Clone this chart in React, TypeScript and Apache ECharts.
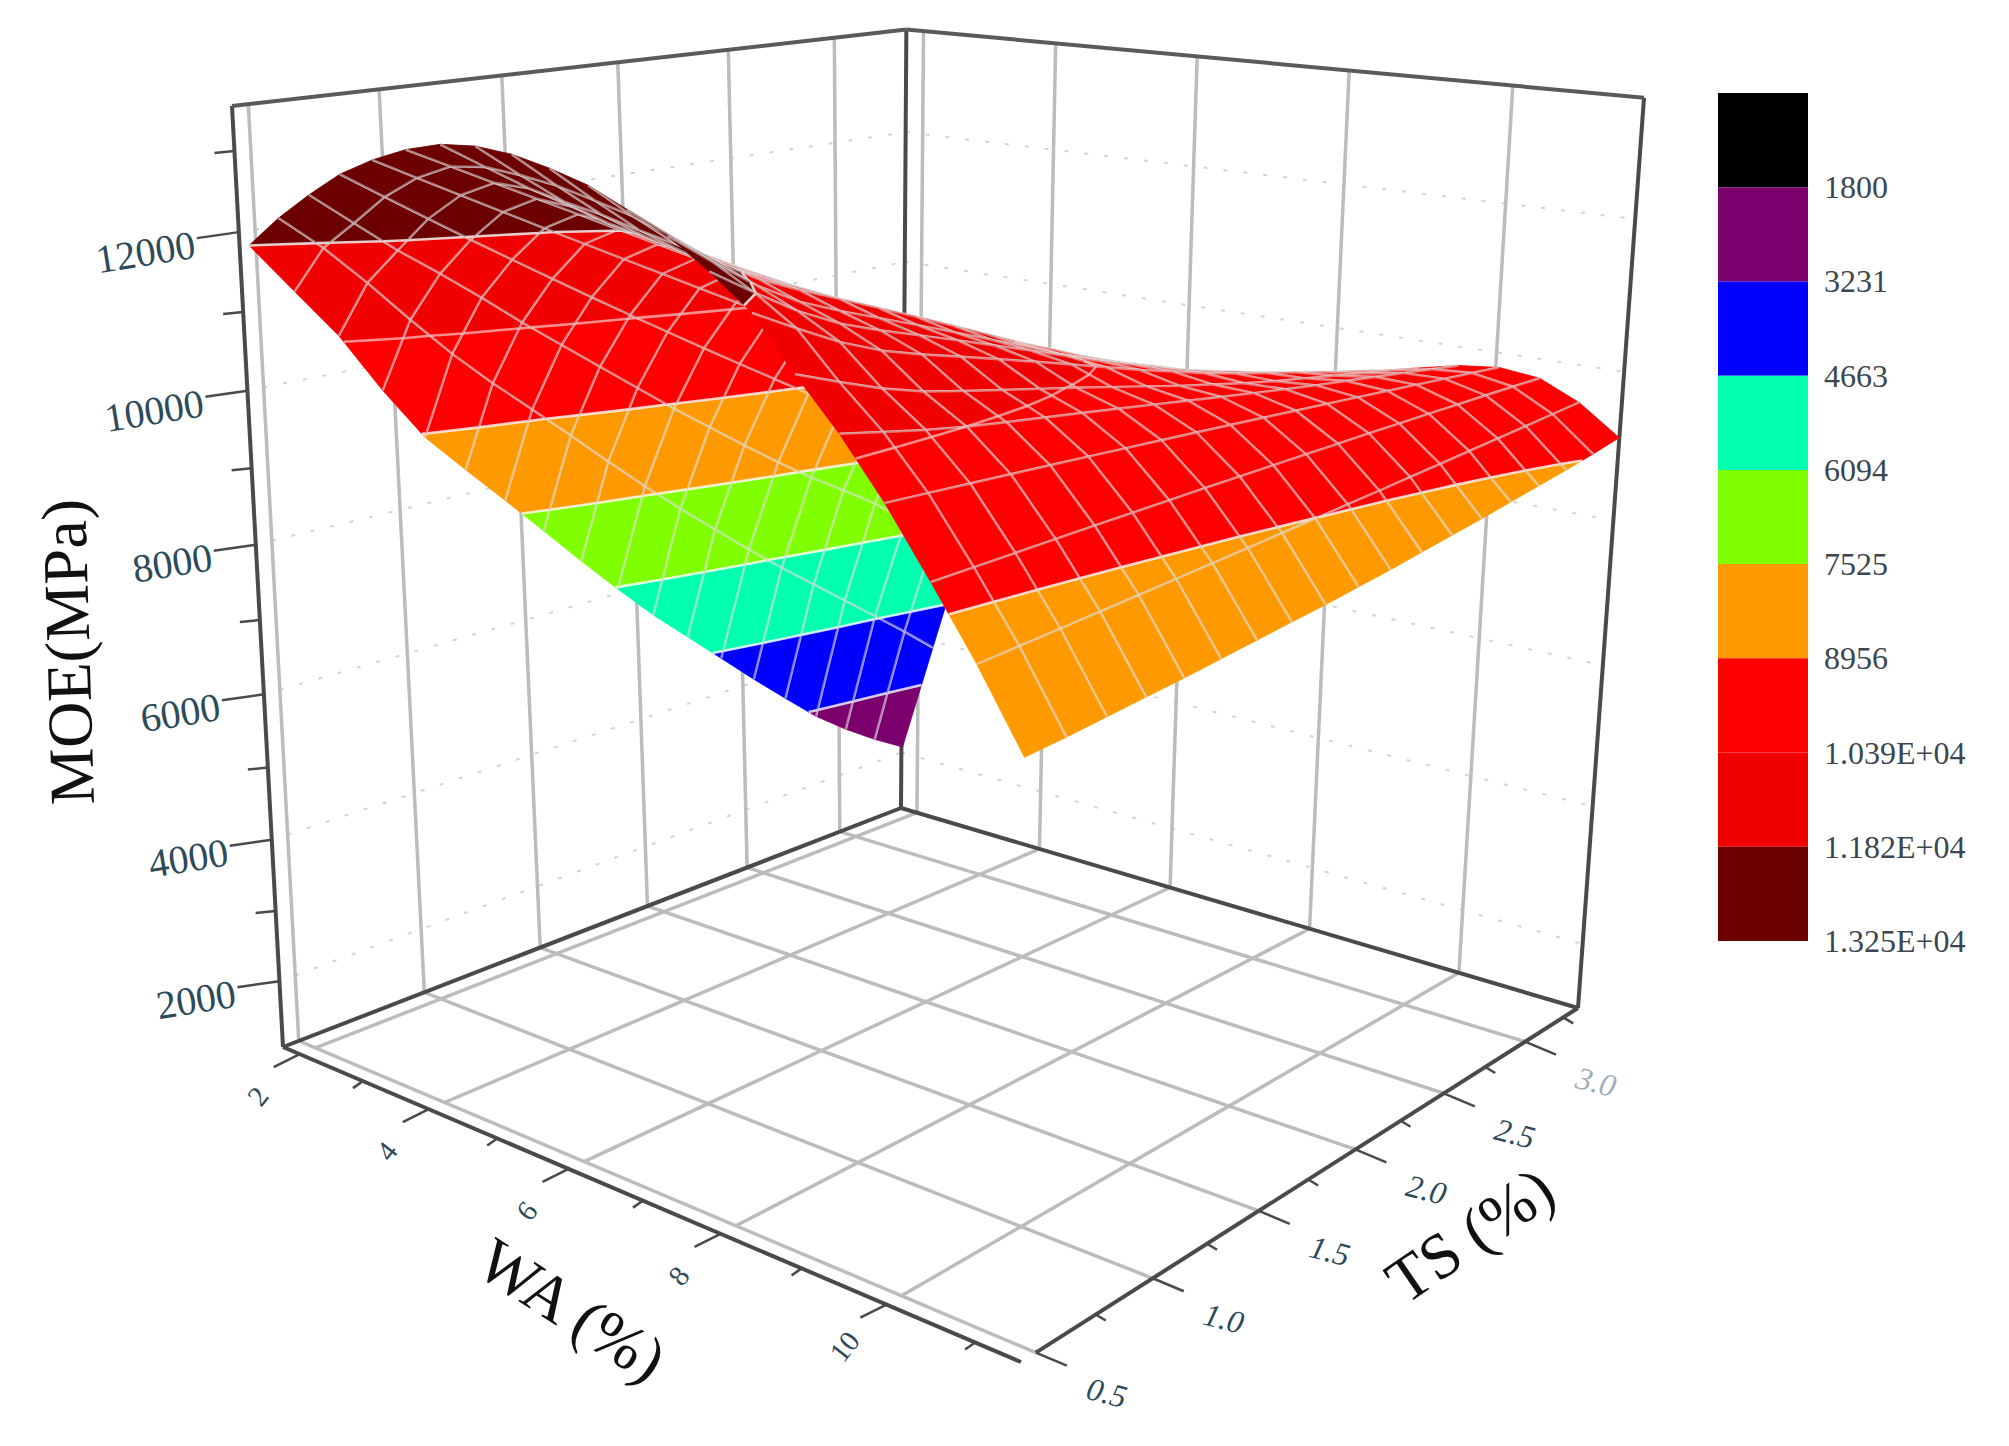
import { useEffect, useRef } from 'react';
import * as echarts from 'echarts';

// mesh nodes of the surface
const waNodes = [1.75, 2.24, 2.73, 3.21, 3.7, 4.19, 4.68, 5.16, 5.65, 6.14, 6.63, 7.11, 7.6, 8.09, 8.58, 9.06, 9.55, 10.04, 10.53, 11.01, 11.5];
const tsNodes = [0.47, 0.63, 0.79, 0.95, 1.11, 1.27, 1.43, 1.59, 1.75, 1.91, 2.07, 2.23, 2.39, 2.55, 2.71, 2.87, 3.03, 3.19, 3.35];

// MOE, one row per waNodes entry, one column per tsNodes entry
const moeRows = [
  [11820, 11150, 10480, 9650, 8900, 8330, 7770, 7200, 6620, 6060, 5520, 5030, 4540, 4050, 3580, 3120, 2740, 2400, 2100],
  [12200, 11750, 11220, 10650, 10100, 9600, 9130, 8650, 8160, 7680, 7220, 6780, 6340, 5920, 5520, 5120, 4720, 4320, 3900],
  [12520, 12100, 11680, 11300, 10900, 10480, 10080, 9680, 9280, 8880, 8500, 8120, 7750, 7400, 7080, 6750, 6350, 6000, 5700],
  [12800, 12457, 12116, 11777, 11442, 11109, 10778, 10449, 10123, 9800, 9479, 9161, 8844, 8531, 8220, 7911, 7604, 7301, 7000],
  [13000, 12722, 12444, 12167, 11889, 11611, 11333, 11056, 10778, 10500, 10222, 9944, 9667, 9389, 9111, 8833, 8556, 8278, 8000],
  [13150, 12891, 12631, 12370, 12107, 11843, 11577, 11312, 11043, 10775, 10505, 10234, 9961, 9687, 9413, 9136, 8859, 8579, 8300],
  [13240, 12918, 12603, 12316, 12056, 11803, 11549, 11292, 11032, 10770, 10506, 10248, 9989, 9737, 9492, 9246, 8997, 8748, 8500],
  [13250, 12858, 12483, 12165, 11904, 11660, 11414, 11163, 10911, 10655, 10397, 10155, 9910, 9682, 9472, 9259, 9041, 8830, 8620],
  [13190, 12774, 12378, 12055, 11803, 11571, 11336, 11099, 10856, 10610, 10360, 10132, 9900, 9689, 9500, 9306, 9110, 8920, 8730],
  [13070, 12647, 12246, 11925, 11684, 11465, 11243, 11018, 10788, 10555, 10318, 10105, 9888, 9695, 9526, 9353, 9176, 9008, 8840],
  [12920, 12511, 12124, 11817, 11590, 11384, 11176, 10965, 10749, 10530, 10307, 10108, 9905, 9726, 9570, 9411, 9248, 9094, 8940],
  [12700, 12332, 11984, 11708, 11504, 11320, 11133, 10943, 10748, 10550, 10348, 10168, 9983, 9820, 9679, 9533, 9384, 9242, 9100],
  [12460, 12105, 11772, 11512, 11323, 11156, 10987, 10814, 10639, 10460, 10279, 10119, 9957, 9816, 9698, 9577, 9452, 9335, 9220],
  [12130, 11829, 11546, 11324, 11161, 11018, 10873, 10724, 10574, 10420, 10265, 10127, 9988, 9867, 9764, 9660, 9552, 9449, 9350],
  [11750, 11502, 11269, 11086, 10955, 10839, 10721, 10601, 10479, 10355, 10229, 10118, 10006, 9909, 9827, 9744, 9659, 9579, 9500],
  [11170, 10994, 10830, 10702, 10611, 10529, 10447, 10365, 10280, 10195, 10108, 10033, 9956, 9891, 9836, 9781, 9724, 9671, 9620],
  [10620, 10535, 10455, 10389, 10338, 10292, 10245, 10197, 10149, 10100, 10051, 10006, 9961, 9920, 9885, 9848, 9811, 9775, 9740],
  [9980, 9970, 9960, 9950, 9940, 9930, 9920, 9910, 9900, 9890, 9880, 9870, 9860, 9850, 9840, 9830, 9820, 9810, 9800],
  [9250, 9277, 9304, 9332, 9359, 9386, 9413, 9441, 9468, 9495, 9522, 9549, 9577, 9604, 9631, 9658, 9686, 9713, 9740],
  [8500, 8546, 8591, 8639, 8687, 8738, 8789, 8841, 8895, 8950, 9007, 9063, 9123, 9182, 9243, 9305, 9369, 9434, 9500],
  [7650, 7700, 7760, 7820, 7880, 7950, 8020, 8090, 8160, 8240, 8320, 8410, 8500, 8590, 8690, 8790, 8890, 9000, 9120],
];

// colour bands, top of the bar first
const bandColors = ['#000000', '#7b006e', '#0000ff', '#00ffaf', '#7fff00', '#ff9900', '#ff0000', '#f00000', '#6c0000'];
const bandLevels = [1800, 3231, 4663, 6094, 7525, 8956, 10390, 11820, 13250];
const bandLabels = ['1800', '3231', '4663', '6094', '7525', '8956', '1.039E+04', '1.182E+04', '1.325E+04'];

const waTicks = [2, 4, 6, 8, 10];
const waMinorTicks = [3, 5, 7, 9, 11];
const tsTicks = [0.5, 1, 1.5, 2, 2.5, 3];
const tsLabels = ['0.5', '1.0', '1.5', '2.0', '2.5', '3.0'];
const tsMinorTicks = [0.75, 1.25, 1.75, 2.25, 2.75, 3.25];
const moeTicks = [2000, 4000, 6000, 8000, 10000, 12000];
const moeMinorTicks = [3000, 5000, 7000, 9000, 11000, 13000];

// extent of the box and where its corners land on the page
const waRange = [1.73, 11.5];
const tsRange = [0.44, 3.35];
const moeRange = [1050, 13550];
const cornerE = [283, 1047];
const cornerG = [1021, 1362];
const cornerF = [1578, 1008];
const cornerD = [901, 808];
const cornerA = [232, 106];
const cornerC = [1644, 94];

const SERIF = '"Liberation Serif", serif';
const LABEL = '#2c4a5a';

function buildProjection() {
  const [x0, y0] = cornerE;
  const [x1, y1] = cornerG;
  const [x2, y2] = cornerF;
  const [x3, y3] = cornerD;
  const dx1 = x1 - x2;
  const dx2 = x3 - x2;
  const sx = x0 - x1 + x2 - x3;
  const dy1 = y1 - y2;
  const dy2 = y3 - y2;
  const sy = y0 - y1 + y2 - y3;
  const den = dx1 * dy2 - dx2 * dy1;
  const g = (sx * dy2 - dx2 * sy) / den;
  const h = (dx1 * sy - sx * dy1) / den;
  const a = x1 - x0 + g * x1;
  const b = x3 - x0 + h * x3;
  const d = y1 - y0 + g * y1;
  const e = y3 - y0 + h * y3;
  const [xA, yA] = cornerA;
  const i = (a + b + xA - cornerC[0] * (g + h + 1)) / (cornerC[0] - xA);
  const a3 = xA * (1 + i) - x0;
  const b3 = yA * (1 + i) - y0;
  return (wa: number, ts: number, moe: number) => {
    const u = (wa - waRange[0]) / (waRange[1] - waRange[0]);
    const v = (ts - tsRange[0]) / (tsRange[1] - tsRange[0]);
    const w = (moe - moeRange[0]) / (moeRange[1] - moeRange[0]);
    const q = g * u + h * v + i * w + 1;
    // the plot's camera is not quite a clean perspective, these terms pull the walls onto it
    const skewX = w * (30 * u * (1 - v) + 60 * v * (1 - v) * (1 - u));
    const skewY = w * (18 * v + 3 * u * v + 54 * u * (1 - v));
    return [(a * u + b * v + a3 * w + x0) / q - skewX, (d * u + e * v + b3 * w + y0) / q - skewY];
  };
}

const project = buildProjection();

type P3 = [number, number, number];

function clipBand(poly: P3[], level: number, keepAbove: boolean) {
  const out: P3[] = [];
  poly.forEach((p, index) => {
    const q = poly[(index + 1) % poly.length];
    const pIn = keepAbove ? p[2] >= level : p[2] <= level;
    const qIn = keepAbove ? q[2] >= level : q[2] <= level;
    if (pIn) out.push(p);
    if (pIn !== qIn) {
      const t = (level - p[2]) / (q[2] - p[2]);
      out.push([p[0] + (q[0] - p[0]) * t, p[1] + (q[1] - p[1]) * t, level]);
    }
  });
  return out;
}

function levelCrossings(poly: P3[], level: number) {
  const out: P3[] = [];
  poly.forEach((p, index) => {
    const q = poly[(index + 1) % poly.length];
    if (p[2] < level !== q[2] < level) {
      const t = (level - p[2]) / (q[2] - p[2]);
      out.push([p[0] + (q[0] - p[0]) * t, p[1] + (q[1] - p[1]) * t, level]);
    }
  });
  return out;
}

function renderCell(params: any, api: any) {
  const i = api.value(0);
  const j = api.value(1);
  const toPx = (p: P3) => api.coord(project(p[0], p[1], p[2]));
  const quad: P3[] = [
    [waNodes[i], tsNodes[j], moeRows[i][j]],
    [waNodes[i + 1], tsNodes[j], moeRows[i + 1][j]],
    [waNodes[i + 1], tsNodes[j + 1], moeRows[i + 1][j + 1]],
    [waNodes[i], tsNodes[j + 1], moeRows[i][j + 1]],
  ];
  const children: any[] = [];
  bandColors.forEach((color, k) => {
    let poly = quad;
    if (k > 0) poly = clipBand(poly, bandLevels[k - 1], true);
    if (k < bandColors.length - 1 && poly.length) poly = clipBand(poly, bandLevels[k], false);
    if (poly.length < 3) return;
    children.push({
      type: 'polygon',
      shape: { points: poly.map(toPx) },
      style: { fill: color, stroke: color, lineWidth: 0.8 },
    });
  });
  bandLevels.forEach((level) => {
    const cross = levelCrossings(quad, level);
    for (let c = 0; c + 1 < cross.length; c += 2) {
      const [x1, y1] = toPx(cross[c]);
      const [x2, y2] = toPx(cross[c + 1]);
      const stroke = level === 10390 ? 'rgba(255,255,255,0.55)' : 'rgba(255,255,255,0.8)';
      children.push({ type: 'line', shape: { x1, y1, x2, y2 }, style: { stroke, lineWidth: 2.6 } });
    }
  });
  const meshEdges = [
    j > 0 ? [quad[0], quad[1]] : null,
    i < waNodes.length - 2 ? [quad[1], quad[2]] : null,
    j < tsNodes.length - 2 ? [quad[2], quad[3]] : null,
    i > 0 ? [quad[3], quad[0]] : null,
  ];
  meshEdges.forEach((edge) => {
    if (!edge) return;
    const [x1, y1] = toPx(edge[0]);
    const [x2, y2] = toPx(edge[1]);
    children.push({ type: 'line', shape: { x1, y1, x2, y2 }, style: { stroke: 'rgba(222,222,222,0.55)', lineWidth: 2.4 } });
  });
  return { type: 'group', children };
}

function renderFrame(params: any, api: any) {
  const px = (wa: number, ts: number, moe: number) => api.coord(project(wa, ts, moe));
  const children: any[] = [];
  const line = (a: number[], b: number[], stroke: string, lineWidth: number, lineDash?: number[]) => {
    children.push({
      type: 'line',
      shape: { x1: a[0], y1: a[1], x2: b[0], y2: b[1] },
      style: { stroke, lineWidth, lineDash },
    });
  };
  const label = (p: number[], text: string, fontSize: number, rotation: number, align: string, fontStyle = 'normal', fill = LABEL) => {
    children.push({
      type: 'text',
      x: p[0],
      y: p[1],
      rotation,
      style: { text, fill, fontFamily: SERIF, fontSize, fontStyle, align, verticalAlign: 'middle' },
    });
  };
  const [waMin, waMax] = waRange;
  const [tsMin, tsMax] = tsRange;
  const [moeMin, moeMax] = moeRange;
  const GRID = '#bcbcbc';
  const DARK = '#4a4a4a';

  // dotted rows on the two walls
  moeTicks.forEach((moe) => {
    line(px(waMin, tsTicks[0], moe), px(waMin, tsMax, moe), '#d4d4d4', 2, [4, 16]);
    line(px(waMin, tsMax, moe), px(waMax, tsMax, moe), '#d4d4d4', 2, [4, 16]);
  });
  // wall and floor grid
  tsTicks.forEach((ts) => {
    line(px(waMin, ts, moeMin), px(waMin, ts, moeMax), GRID, 3.5);
    line(px(waMin, ts, moeMin), px(waMax, ts, moeMin), GRID, 3.5);
  });
  waTicks.forEach((wa) => {
    line(px(wa, tsMax, moeMin), px(wa, tsMax, moeMax), GRID, 3.5);
    line(px(wa, tsTicks[0], moeMin), px(wa, tsMax, moeMin), GRID, 3.5);
  });

  // box edges
  line(px(waMin, tsMax, moeMin), px(waMin, tsMax, moeMax), DARK, 4);
  line(px(waMin, tsMin, moeMin), px(waMin, tsMin, moeMax), DARK, 4);
  line(px(waMax, tsMax, moeMin), px(waMax, tsMax, moeMax), DARK, 4);
  line(px(waMin, tsMin, moeMax), px(waMin, tsMax, moeMax), '#5a5a5a', 4);
  line(px(waMin, tsMax, moeMax), px(waMax, tsMax, moeMax), '#5a5a5a', 4);
  line(px(waMin, tsMin, moeMin), px(waMin, tsMax, moeMin), DARK, 4);
  line(px(waMin, tsMax, moeMin), px(waMax, tsMax, moeMin), DARK, 4);
  line(px(waMin, tsMin, moeMin), px(waMax, tsMin, moeMin), DARK, 4);
  line(px(waMax, tsTicks[0], moeMin), px(waMax, tsMax, moeMin), DARK, 4);

  // WA axis
  waTicks.forEach((wa) => {
    const p = px(wa, tsMin, moeMin);
    line(p, [p[0] - 26, p[1] + 13], DARK, 2.5);
    label([p[0] - 42, p[1] + 42], String(wa), 29, 0.9, 'center');
  });
  waMinorTicks.forEach((wa) => {
    const p = px(wa, tsMin, moeMin);
    line(p, [p[0] - 10, p[1] + 7], DARK, 2.5);
  });
  // TS axis
  tsTicks.forEach((ts, index) => {
    const p = px(waMax, ts, moeMin);
    line(p, [p[0] + 31, p[1] + 13], DARK, 2.5);
    label([p[0] + 71, p[1] + 40], tsLabels[index], 32, -0.25, 'center', 'italic', index === 5 ? '#9fb0ba' : LABEL);
  });
  tsMinorTicks.forEach((ts) => {
    const p = px(waMax, ts, moeMin);
    line(p, [p[0] + 10, p[1] + 6], DARK, 2.5);
  });
  // MOE axis
  moeTicks.forEach((moe) => {
    const p = px(waMin, tsMin, moe);
    line(p, [p[0] - 42, p[1] + 6], DARK, 2.5);
    label([p[0] - 44, p[1] + 12], String(moe), 40, 0.16, 'right');
  });
  moeMinorTicks.forEach((moe) => {
    const p = px(waMin, tsMin, moe);
    line(p, [p[0] - 20, p[1] + 2], DARK, 2.5);
  });
  return { type: 'group', children };
}

function renderLegendBand(params: any, api: any) {
  const k = api.value(0);
  const [x1, y1] = api.coord([0, k]);
  const [x2, y2] = api.coord([1, k + 1]);
  return {
    type: 'rect',
    shape: { x: x1, y: y1, width: x2 - x1, height: y2 - y1 },
    style: { fill: bandColors[k] },
  };
}

function buildOption() {
  const cells: number[][] = [];
  // far corner of the box first, so nearer cells paint over it
  for (let i = 0; i < waNodes.length - 1; i += 1) {
    for (let j = tsNodes.length - 2; j >= 0; j -= 1) cells.push([i, j]);
  }
  return {
    animation: false,
    backgroundColor: '#ffffff',
    grid: [
      { left: 0, top: 0, width: 2009, height: 1446 },
      { left: 1718, top: 93, width: 90, height: 848 },
    ],
    xAxis: [
      { type: 'value', min: 0, max: 2009, show: false },
      { type: 'value', gridIndex: 1, min: 0, max: 1, show: false },
    ],
    yAxis: [
      { type: 'value', min: 0, max: 1446, inverse: true, show: false },
      {
        type: 'value',
        gridIndex: 1,
        min: 0,
        max: bandColors.length,
        interval: 1,
        inverse: true,
        position: 'right',
        axisLine: { show: false },
        axisTick: { show: false },
        splitLine: { show: false },
        axisLabel: {
          margin: 16,
          color: '#3b4650',
          fontFamily: SERIF,
          fontSize: 32,
          padding: [12, 0, 0, 0],
          formatter: (value: number) => (value > 0 ? bandLabels[value - 1] : ''),
        },
      },
    ],
    graphic: [
      {
        type: 'text',
        x: 68,
        y: 652,
        rotation: 1.6,
        style: { text: 'MOE(MPa)', fill: '#111', fontFamily: SERIF, fontSize: 64, align: 'center', verticalAlign: 'middle' },
      },
      {
        type: 'text',
        x: 572,
        y: 1310,
        rotation: -0.57,
        style: { text: 'WA (%)', fill: '#111', fontFamily: SERIF, fontSize: 64, align: 'center', verticalAlign: 'middle' },
      },
      {
        type: 'text',
        x: 1470,
        y: 1235,
        rotation: 0.6,
        style: { text: 'TS (%)', fill: '#111', fontFamily: SERIF, fontSize: 64, align: 'center', verticalAlign: 'middle' },
      },
    ],
    series: [
      { type: 'custom', xAxisIndex: 0, yAxisIndex: 0, clip: false, renderItem: renderFrame, data: [[0, 0]], z: 1, silent: true },
      { type: 'custom', xAxisIndex: 0, yAxisIndex: 0, clip: false, renderItem: renderCell, data: cells, z: 2, silent: true },
      {
        type: 'custom',
        xAxisIndex: 1,
        yAxisIndex: 1,
        renderItem: renderLegendBand,
        data: bandColors.map((_, k) => [k]),
        encode: { y: 0 },
        z: 2,
        silent: true,
      },
    ],
  };
}

export default function App() {
  const containerRef = useRef<HTMLDivElement | null>(null);

  useEffect(() => {
    if (!containerRef.current) return undefined;
    document.body.style.margin = '0';
    const chart = echarts.init(containerRef.current, undefined, { renderer: 'svg' });
    chart.setOption(buildOption() as any);
    return () => chart.dispose();
  }, []);

  return <div ref={containerRef} style={{ width: 2009, height: 1446 }} />;
}
